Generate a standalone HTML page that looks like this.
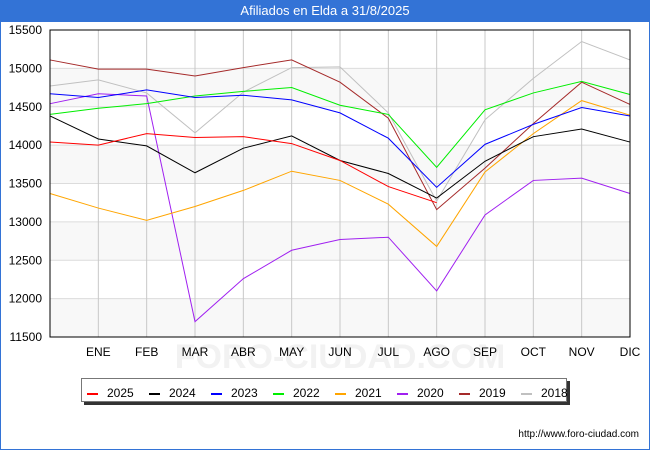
<!DOCTYPE html>
<html><head><meta charset="utf-8"><style>
body{margin:0;width:650px;height:450px;overflow:hidden;background:#fff;font-family:"Liberation Sans","DejaVu Sans",sans-serif;}
#frame{position:absolute;left:0;top:0;width:648px;height:448px;border:1px solid #3373d6;}
#title{position:absolute;left:0;top:0;width:650px;height:22px;background:#3373d6;color:#fff;font-size:13px;line-height:22px;text-align:center;}
</style></head><body>
<div id="frame"></div>
<div id="title">Afiliados en Elda a 31/8/2025</div>
<svg id="chart" width="650" height="450" style="position:absolute;left:0;top:0"></svg>
<script>
const months=["","ENE","FEB","MAR","ABR","MAY","JUN","JUL","AGO","SEP","OCT","NOV","DIC"];
const yTicks=[11500,12000,12500,13000,13500,14000,14500,15000,15500];
const seriesNames=["2025","2024","2023","2022","2021","2020","2019","2018"];
const seriesColors=["#ff0000","#000000","#0000ff","#00ee00","#ffa500","#a020f0","#a52a2a","#c0c0c0"];
const s2025=[14040,14000,14150,14100,14110,14020,13800,13460,13250];
const s2024=[14380,14080,13990,13640,13960,14120,13800,13630,13310,13790,14110,14210,14040];
const s2023=[14670,14620,14720,14620,14650,14590,14420,14090,13450,14010,14270,14490,14380];
const s2022=[14400,14480,14540,14640,14700,14750,14520,14400,13710,14460,14680,14830,14660];
const s2021=[13370,13180,13020,13200,13410,13660,13540,13230,12680,13650,14150,14580,14390];
const s2020=[14540,14670,14640,11700,12260,12630,12770,12800,12100,13090,13540,13570,13370];
const s2019=[15110,14990,14990,14900,15010,15110,14820,14350,13160,13700,14280,14820,14530];
const s2018=[14770,14850,14680,14160,14690,15010,15020,14420,13270,14330,14870,15350,15110];
const allSeries=[s2025,s2024,s2023,s2022,s2021,s2020,s2019,s2018];

const svg=document.getElementById('chart');
const NS="http://www.w3.org/2000/svg";
const L=50,R=630,T=30,B=337,yMin=11500,yMax=15500;
const x=i=>L+i*(R-L)/(months.length-1);
const y=v=>B-(v-yMin)/(yMax-yMin)*(B-T);
function mk(tag,attrs,parent){const e=document.createElementNS(NS,tag);for(const k in attrs)e.setAttribute(k,attrs[k]);(parent||svg).appendChild(e);return e;}

const wm=mk('text',{x:340,y:368,'text-anchor':'middle','font-size':'34',fill:'#f2f2f2','font-weight':'bold'});
wm.textContent='FORO-CIUDAD.COM';



for(let i=0;i<yTicks.length-1;i++){
  if(i%2===0){const b=mk('rect',{x:L,y:y(yTicks[i+1]),width:R-L,height:y(yTicks[i])-y(yTicks[i+1]),fill:'#f8f8f8'});
  
  }
}
yTicks.forEach(v=>{
  const g=mk('line',{x1:L,x2:R,y1:y(v),y2:y(v),stroke:'#dcdcdc','stroke-width':1});
  
  
  const t=mk('text',{x:42,y:y(v)+4,'text-anchor':'end','font-size':'12',fill:'#000'});
  t.textContent=v;
  
  
});
months.forEach((m,i)=>{
  if(i>0&&i<months.length-1){const g=mk('line',{x1:x(i),x2:x(i),y1:T,y2:B,stroke:'#c8c8c8','stroke-width':1});
  
  }
  if(m){const t=mk('text',{x:x(i),y:356,'text-anchor':'middle','font-size':'12',fill:'#000'});
  t.textContent=m;
  
  }
});

for(let s=allSeries.length-1;s>=0;s--){
  const pts=allSeries[s].map((v,i)=>x(i)+','+y(v)).join(' ');
  const p=mk('polyline',{points:pts,fill:'none',stroke:seriesColors[s],'stroke-width':1});
  
  
}
const ax=mk('rect',{x:L,y:T,width:R-L,height:B-T,fill:'none',stroke:'#000','stroke-width':1});



const lg=mk('g',{});


mk('rect',{x:84,y:381,width:486,height:24,fill:'#333'},lg);
mk('rect',{x:81.5,y:378.5,width:485,height:23,fill:'#fff',stroke:'#777'},lg);
seriesNames.forEach((n,i)=>{
  const g=mk('g',{},lg);
  
  
  const lx=87+i*62;
  mk('line',{x1:lx,x2:lx+11,y1:394,y2:394,stroke:seriesColors[i],'stroke-width':2},g);
  const t=mk('text',{x:lx+20,y:397,'font-size':'12',fill:'#000'},g);
  t.textContent=n;
});
const url=mk('text',{x:639,y:437,'text-anchor':'end','font-size':'10',fill:'#000'});
url.textContent='http://www.foro-ciudad.com';


</script>
</body></html>
